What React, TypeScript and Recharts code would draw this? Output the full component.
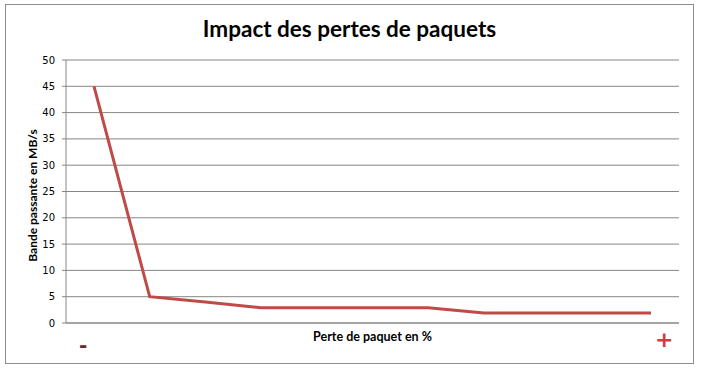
import { LineChart, Line, XAxis, YAxis, CartesianGrid, Label } from 'recharts';

const categories = ['1', '2', '3', '4', '5', '6', '7', '8', '9', '10', '11'];
const bandwidth = [45, 5, 4, 2.9, 2.9, 2.9, 2.9, 1.9, 1.9, 1.9, 1.9];
const yTicks = [0, 5, 10, 15, 20, 25, 30, 35, 40, 45, 50];

const data = categories.map((c, i) => ({ cat: c, value: bandwidth[i] }));

const titleFont = 'Lato, "Open Sans", sans-serif';

export default function App() {
  return (
    <div style={{ position: 'fixed', left: 0, top: 0, width: 701, height: 368, background: '#fff' }}>
      <div
        style={{
          position: 'absolute',
          left: 5,
          top: 4,
          width: 687,
          height: 358,
          border: '1px solid #8c8c8c',
          background: '#fff',
        }}
      >
        <div
          style={{
            position: 'absolute',
            left: 0,
            top: 10,
            width: '100%',
            textAlign: 'center',
            fontFamily: titleFont,
            fontWeight: 700,
            fontSize: 22.5,
            color: '#000',
          }}
        >
          Impact des pertes de paquets
        </div>
        <LineChart
          width={687}
          height={358}
          data={data}
          margin={{ top: 55, right: 14, bottom: 0, left: 0 }}
        >
          <CartesianGrid vertical={false} stroke="#868686" strokeWidth={1} />
          <XAxis
            dataKey="cat"
            tick={false}
            tickLine={false}
            axisLine={{ stroke: '#868686' }}
            padding={{ left: 28, right: 28 }}
            height={40}
          >
            <Label
              value="Perte de paquet en %"
              position="insideTop"
              offset={9}
              style={{ fontFamily: titleFont, fontWeight: 700, fontSize: 12.5, fill: '#000' }}
            />
          </XAxis>
          <YAxis
            domain={[0, 50]}
            ticks={yTicks}
            width={60}
            interval={0}
            tickSize={4}
            tickMargin={7}
            tickLine={{ stroke: '#868686' }}
            axisLine={{ stroke: '#868686' }}
            tick={{ fontFamily: '"DejaVu Sans", Verdana, sans-serif', fontSize: 10, fill: '#000' }}
            label={{
              content: (props: any) => {
                const vb = props.viewBox || { x: 0, y: 0, height: 0 };
                const cx = vb.x + 26;
                const cy = vb.y + vb.height / 2 + 4;
                return (
                  <text
                    x={cx}
                    y={cy}
                    transform={`rotate(-90 ${cx} ${cy})`}
                    textAnchor="middle"
                    dominantBaseline="central"
                    style={{ fontFamily: titleFont, fontWeight: 700, fontSize: 12, fill: '#000' }}
                  >
                    Bande passante en MB/s
                  </text>
                );
              },
            }}
          />
          <Line
            type="linear"
            dataKey="value"
            stroke="#BE4B48"
            strokeWidth={3}
            dot={false}
            activeDot={false}
            isAnimationActive={false}
          />
        </LineChart>
        <span
          style={{
            position: 'absolute',
            left: 73,
            top: 330,
            fontFamily: '"DejaVu Sans", sans-serif',
            fontWeight: 700,
            fontSize: 20,
            lineHeight: '20px',
            color: '#6e2a2e',
          }}
        >
          -
        </span>
        <span
          style={{
            position: 'absolute',
            left: 649,
            top: 324,
            fontFamily: '"DejaVu Sans", sans-serif',
            fontWeight: 700,
            fontSize: 22,
            lineHeight: '22px',
            color: '#d9363e',
          }}
        >
          +
        </span>
      </div>
    </div>
  );
}
